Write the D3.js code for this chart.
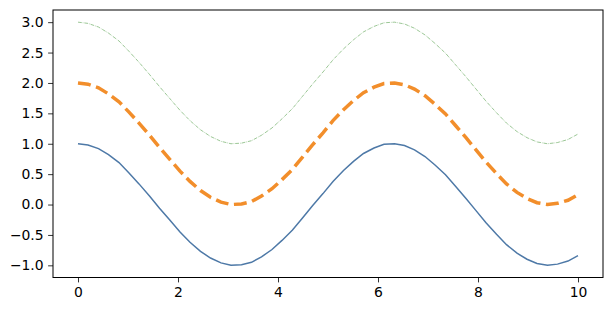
<!DOCTYPE html>
<html>
<head>
<meta charset="utf-8">
<script src="https://cdn.jsdelivr.net/npm/d3@7"></script>
<style>
	body { margin: 0; background: #fff; }
	svg { display: block; }
	.tick text { font-family: "DejaVu Sans", sans-serif; font-size: 13.9px; fill: #000; }
	.tick line { stroke: #000; stroke-width: 0.8; }
	.domain { display: none; }
</style>
</head>
<body>
<div id="chart"></div>
<script>
// x samples (0 .. 10, 50 points)
const xs = [0, 0.20, 0.41, 0.61, 0.82, 1.02, 1.22, 1.43, 1.63, 1.84,
	2.04, 2.24, 2.45, 2.65, 2.86, 3.06, 3.27, 3.47, 3.67, 3.88,
	4.08, 4.29, 4.49, 4.69, 4.90, 5.10, 5.31, 5.51, 5.71, 5.92,
	6.12, 6.33, 6.53, 6.73, 6.94, 7.14, 7.35, 7.55, 7.76, 7.96,
	8.16, 8.37, 8.57, 8.78, 8.98, 9.18, 9.39, 9.59, 9.80, 10];

// solid blue line
const seriesA = [1.00, 0.98, 0.92, 0.82, 0.69, 0.52, 0.34, 0.14, -0.06, -0.26,
	-0.45, -0.62, -0.77, -0.88, -0.96, -1.00, -0.99, -0.95, -0.86, -0.74,
	-0.59, -0.42, -0.22, -0.02, 0.18, 0.38, 0.56, 0.71, 0.84, 0.93,
	0.99, 1.00, 0.97, 0.90, 0.79, 0.65, 0.49, 0.30, 0.10, -0.10,
	-0.30, -0.49, -0.66, -0.80, -0.90, -0.97, -1.00, -0.98, -0.93, -0.84];

// thick dashed orange line
const seriesB = [2.00, 1.98, 1.92, 1.82, 1.69, 1.52, 1.34, 1.14, 0.94, 0.74,
	0.55, 0.38, 0.23, 0.12, 0.04, 0.00, 0.01, 0.05, 0.14, 0.26,
	0.41, 0.58, 0.78, 0.98, 1.18, 1.38, 1.56, 1.71, 1.84, 1.93,
	1.99, 2.00, 1.97, 1.90, 1.79, 1.65, 1.49, 1.30, 1.10, 0.90,
	0.70, 0.51, 0.34, 0.20, 0.10, 0.03, 0.00, 0.02, 0.07, 0.16];

// thin dash-dot green line
const seriesC = [3.00, 2.98, 2.92, 2.82, 2.69, 2.52, 2.34, 2.14, 1.94, 1.74,
	1.55, 1.38, 1.23, 1.12, 1.04, 1.00, 1.01, 1.05, 1.14, 1.26,
	1.41, 1.58, 1.78, 1.98, 2.18, 2.38, 2.56, 2.71, 2.84, 2.93,
	2.99, 3.00, 2.97, 2.90, 2.79, 2.65, 2.49, 2.30, 2.10, 1.90,
	1.70, 1.51, 1.34, 1.20, 1.10, 1.03, 1.00, 1.02, 1.07, 1.16];

const xTicks = [0, 2, 4, 6, 8, 10];
const yTicks = [-1.0, -0.5, 0.0, 0.5, 1.0, 1.5, 2.0, 2.5, 3.0];

const width = 611;
const height = 311;
const margins = { top: 10, right: 8, bottom: 33.5, left: 53 };

const svg = d3
	.select("#chart")
	.append("svg")
	.attr("width", width)
	.attr("height", height);

const plotW = width - margins.left - margins.right;
const plotH = height - margins.top - margins.bottom;

// 5% padding like matplotlib autoscale
const x = d3.scaleLinear().domain([-0.5, 10.5]).range([margins.left, margins.left + plotW]);
const y = d3.scaleLinear().domain([-1.2, 3.2]).range([margins.top + plotH, margins.top]);

// Add X axis
svg
	.append("g")
	.attr("transform", `translate(0, ${margins.top + plotH})`)
	.call(d3.axisBottom(x).tickValues(xTicks).tickFormat(d3.format("d")).tickSize(4.9).tickPadding(4.5));

// Add Y axis
svg
	.append("g")
	.attr("transform", `translate(${margins.left}, 0)`)
	.call(d3.axisLeft(y).tickValues(yTicks).tickFormat((d) => d3.format(".1f")(d).replace("-", "\u2212")).tickSize(4.9).tickPadding(4.5));

const line = (ys) =>
	d3
		.line()
		.x((_, i) => x(xs[i]))
		.y((d) => y(d))(ys);

svg.append("clipPath").attr("id", "clip")
	.append("rect")
	.attr("x", margins.left).attr("y", margins.top)
	.attr("width", plotW).attr("height", plotH);

const lines = svg.append("g").attr("clip-path", "url(#clip)");

lines.append("path")
	.attr("d", line(seriesA))
	.attr("fill", "none")
	.attr("stroke", "#4e79a7")
	.attr("stroke-width", 1.5);

lines.append("path")
	.attr("d", line(seriesB))
	.attr("fill", "none")
	.attr("stroke", "#f28e2b")
	.attr("stroke-width", 3.5)
	.attr("stroke-dasharray", "12.9,5.6");

lines.append("path")
	.attr("d", line(seriesC))
	.attr("fill", "none")
	.attr("stroke", "#59a14f")
	.attr("stroke-width", 0.6)
	.attr("stroke-dasharray", "3.8,1,0.6,1");

// axes frame
svg.append("rect")
	.attr("x", margins.left).attr("y", margins.top)
	.attr("width", plotW).attr("height", plotH)
	.attr("fill", "none")
	.attr("stroke", "#000")
	.attr("stroke-width", 1);
</script>
</body>
</html>
